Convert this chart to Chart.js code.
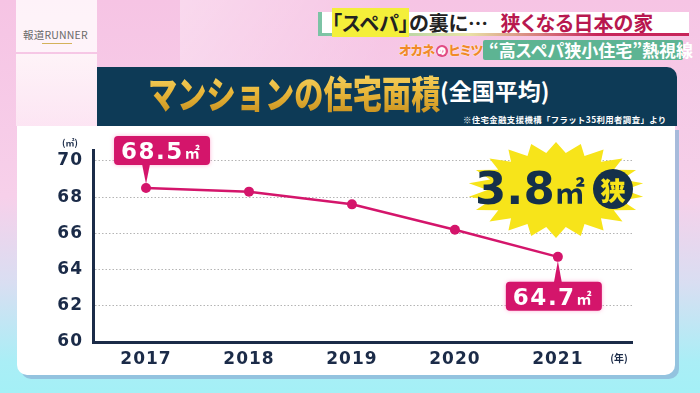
<!DOCTYPE html>
<html lang="ja">
<head>
<meta charset="utf-8">
<script src="https://cdn.jsdelivr.net/npm/chart.js@4"></script>
<style>
  body { margin: 0; width: 700px; height: 393px; overflow: hidden; position: relative;
    background: linear-gradient(180deg, #f6c4e4 0%, #f7d0ea 50%, #d9def2 72%, #aaeef6 92%, #a4f0f6 100%);
    font-family: "Noto Sans CJK JP", sans-serif; }
  .abs { position: absolute; }
  #shine { left: 180px; top: 0; width: 200px; height: 67px;
    background: linear-gradient(120deg, rgba(255,255,255,0.35), rgba(255,255,255,0)); }
  #logo { left: 16px; top: 0; width: 81px; height: 52px; background: rgba(255,250,253,0.85); }
  #logo span { position: absolute; left: 7px; top: 27px; font-size: 10.5px; color: #6a6a6a;
    font-family: "Noto Sans CJK JP"; letter-spacing: 0.2px; }
  #logo i { position: absolute; left: 26px; top: 43px; width: 30px; height: 1px; background: #d4b25a; }
  #logo2 { left: 16px; top: 54px; width: 81px; height: 72px;
    background: linear-gradient(180deg, rgba(255,248,250,0.9), rgba(255,240,248,0.7)); }
  #head { left: 318px; top: 12px; width: 367px; height: 21px; background: #fff;
    border-left: 4px solid #5aa88a; border-bottom: 3px solid transparent;
    border-image: linear-gradient(90deg, #7cc3a5, #e9e3a6 40%, #c7245a 75%, #c7245a) 1; }
  #head div { position: absolute; top: -3px; left: 10px; font-size: 20px; font-weight: 700;
    white-space: nowrap; font-feature-settings: "palt"; color: #222; line-height: 27px; }
  #head .hl { background: #f4ef3a; }
  #head .red { color: #b8184f; margin-left: 8px; }
  #oka { left: 399px; top: 41px; font-size: 13px; font-weight: 900; color: #f08a2a;
    font-feature-settings: "palt"; white-space: nowrap; line-height: 18px; letter-spacing: -0.5px;
    text-shadow: 0 0 1px #fff, 0 0 1px #fff; }
  #oka b { display: inline-block; width: 12px; height: 12px; border-radius: 50%; background: #e0467f;
    color: #fff; font-size: 8px; line-height: 12px; text-align: center; vertical-align: 1px; margin: 0 1px;
    letter-spacing: 0; }
  #green { left: 483px; top: 40px; width: 200px; height: 20px; background: #5db493; border-radius: 2px;
    color: #fff; font-size: 17px; font-weight: 700; line-height: 20px; white-space: nowrap;
    font-feature-settings: "palt"; text-indent: 6px; }
  #banner { left: 97px; top: 67px; width: 580px; height: 59px; background: #0d3a56;
    border-top-right-radius: 10px; }
  #title { left: 148px; top: 70px; font-size: 38px; font-weight: 900; white-space: nowrap;
    transform: scaleX(0.77); transform-origin: left top; line-height: 44px;
    background: linear-gradient(180deg, #f7d667 0%, #e9b73a 50%, #c89220 100%);
    -webkit-background-clip: text; background-clip: text; color: transparent; }
  #sub { left: 440px; top: 76px; font-size: 23px; font-weight: 700; color: #fff; white-space: nowrap;
    font-feature-settings: "palt"; line-height: 28px; }
  #note { left: 463px; top: 114px; font-size: 8.4px; font-weight: 700; color: #fff; white-space: nowrap;
    letter-spacing: 0.4px; line-height: 11px; }
  #card { left: 17px; top: 126px; width: 658px; height: 249px; background: #fff;
    border-radius: 0 0 10px 10px; box-shadow: 4px 4px 0 rgba(140,180,215,0.75); }
  #card canvas { position: absolute; left: 0; top: 0; }
</style>
</head>
<body>
<div id="shine" class="abs"></div>
<div id="logo" class="abs"><span>報道RUNNER</span><i></i></div>
<div id="logo2" class="abs"></div>
<div id="head" class="abs"><div><span class="hl">「スペパ」</span>の裏に… <span class="red">狭くなる日本の家</span></div></div>
<div id="oka" class="abs">オカネ<b>の</b>ヒミツ</div>
<div id="green" class="abs">“高スペパ狭小住宅”熱視線</div>
<div id="banner" class="abs"></div>
<div id="title" class="abs">マンションの住宅面積</div>
<div id="sub" class="abs">(全国平均)</div>
<div id="note" class="abs">※住宅金融支援機構「フラット35利用者調査」より</div>
<div id="card" class="abs"><canvas id="chart" width="658" height="249"></canvas></div>

<script>
// データ
const years = [2017, 2018, 2019, 2020, 2021];
const areas = [68.5, 68.3, 67.6, 66.2, 64.7];
const yTicks = [60, 62, 64, 66, 68, 70];
const highlightIdx = [0, 4];       // 吹き出しを付ける点
const diffText = '3.8';
const yUnit = '(㎡)';
const xUnit = '(年)';

const navy = '#1b2b48';
const pink = '#d4156b';

function roundRect(ctx, x, y, w, h, r) {
    ctx.beginPath();
    ctx.moveTo(x + r, y);
    ctx.arcTo(x + w, y, x + w, y + h, r);
    ctx.arcTo(x + w, y + h, x, y + h, r);
    ctx.arcTo(x, y + h, x, y, r);
    ctx.arcTo(x, y, x + w, y, r);
    ctx.closePath();
}

// 吹き出し（値ラベル）
function drawCallout(ctx, px, py, value, above) {
    const w = 96, h = 29;
    const bx = above ? px - 32 : px - 52;
    const by = above ? py - 52 : py + 25;
    ctx.save();
    ctx.fillStyle = pink;
    ctx.shadowColor = 'rgba(255,150,200,0.7)';
    ctx.shadowBlur = 4;
    roundRect(ctx, bx, by, w, h, 4);
    ctx.fill();
    ctx.shadowBlur = 0;
    ctx.beginPath();
    if (above) {
        ctx.moveTo(px - 4, by + h - 1);
        ctx.lineTo(px + 4, by + h - 1);
        ctx.lineTo(px, py - 4);
    } else {
        ctx.moveTo(px - 4, by + 1);
        ctx.lineTo(px + 4, by + 1);
        ctx.lineTo(px, py + 4);
    }
    ctx.closePath();
    ctx.fill();
    ctx.fillStyle = '#fff';
    ctx.textBaseline = 'alphabetic';
    ctx.letterSpacing = '1.5px';
    ctx.font = 'bold 23px "DejaVu Sans"';
    const t = value.toFixed(1);
    ctx.fillText(t, bx + 7, by + 23);
    const tw = ctx.measureText(t).width;
    ctx.letterSpacing = '0px';
    ctx.font = 'bold 15px "Noto Sans CJK JP"';
    ctx.fillText('㎡', bx + 7 + tw + 1, by + 22);
    ctx.restore();
}

// 「3.8㎡狭」の爆発マーク
function drawBurst(ctx, cx, cy) {
    const n = 22, rx = 88, ry = 48;
    ctx.save();
    ctx.letterSpacing = '0px';
    ctx.beginPath();
    for (let i = 0; i < n * 2; i++) {
        const a = i * Math.PI / n - Math.PI / 2;
        const r = i % 2 ? 0.78 : 1;
        const x = cx + rx * r * Math.cos(a);
        const y = cy + ry * r * Math.sin(a);
        if (i === 0) ctx.moveTo(x, y); else ctx.lineTo(x, y);
    }
    ctx.closePath();
    ctx.fillStyle = '#f7e41a';
    ctx.fill();

    ctx.fillStyle = '#15304a';
    ctx.textBaseline = 'alphabetic';
    ctx.font = 'bold 45px "DejaVu Sans"';
    ctx.fillText(diffText, cx - 81, cy + 14);
    const tw = ctx.measureText(diffText).width;
    ctx.font = 'bold 30px "Noto Sans CJK JP"';
    ctx.fillText('㎡', cx - 81 + tw, cy + 13);

    ctx.beginPath();
    ctx.arc(cx + 57, cy - 1, 20, 0, Math.PI * 2);
    ctx.fill();
    ctx.fillStyle = '#f7e41a';
    ctx.font = '900 25px "Noto Sans CJK JP"';
    ctx.textAlign = 'center';
    ctx.textBaseline = 'middle';
    ctx.fillText('狭', cx + 57, cy);
    ctx.restore();
}

const decorPlugin = {
    id: 'decor',
    beforeDraw(chart) {
        chart.ctx.letterSpacing = '1px';
    },
    afterDatasetsDraw(chart) {
        const ctx = chart.ctx;
        const area = chart.chartArea;
        const pts = chart.getDatasetMeta(0).data;
        ctx.save();
        ctx.letterSpacing = '0px';
        ctx.fillStyle = navy;
        ctx.font = 'bold 9px "Noto Sans CJK JP"';
        ctx.textAlign = 'center';
        ctx.textBaseline = 'middle';
        ctx.fillText(yUnit, area.left - 23, area.top - 7);
        ctx.font = 'bold 10px "Noto Sans CJK JP"';
        ctx.fillText(xUnit, area.right - 13, area.bottom + 16);
        ctx.restore();

        highlightIdx.forEach((i, k) => {
            drawCallout(ctx, pts[i].x, pts[i].y, areas[i], k === 0);
        });
        drawBurst(ctx, area.right - 76, area.top + 40);
        ctx.letterSpacing = '0px';
    }
};

new Chart(document.getElementById('chart'), {
    type: 'line',
    data: {
        datasets: [{
            data: years.map((y, i) => ({ x: y, y: areas[i] })),
            borderColor: pink,
            backgroundColor: pink,
            borderWidth: 2.5,
            pointRadius: 5,
            pointBackgroundColor: pink,
            pointBorderWidth: 0,
            tension: 0
        }]
    },
    options: {
        responsive: false,
        animation: false,
        layout: { padding: { left: 0, right: 43, top: 24, bottom: 0 } },
        plugins: { legend: { display: false }, tooltip: { enabled: false } },
        scales: {
            x: {
                type: 'linear',
                min: 2016.485,
                max: 2021.72,
                afterBuildTicks: axis => { axis.ticks = years.map(v => ({ value: v })); },
                afterFit: axis => { axis.height = 33; },
                grid: { display: false, drawTicks: false },
                border: { display: true, color: navy, width: 3 },
                ticks: {
                    color: navy,
                    padding: 7,
                    font: { family: 'DejaVu Sans', weight: 'bold', size: 17 },
                    callback: v => String(v)
                }
            },
            y: {
                min: 60,
                max: 70.6,
                afterBuildTicks: axis => { axis.ticks = yTicks.map(v => ({ value: v })); },
                afterFit: axis => { axis.width = 76; },
                grid: { color: '#b4b4b4', lineWidth: 1, drawTicks: false },
                // v4 では目盛線の点線は border.dash で指定
                border: { display: true, color: navy, width: 3, dash: [1.5, 2] },
                ticks: {
                    color: navy,
                    padding: 10,
                    font: { family: 'DejaVu Sans', weight: 'bold', size: 17 }
                }
            }
        }
    },
    plugins: [decorPlugin]
});
</script>
</body>
</html>
